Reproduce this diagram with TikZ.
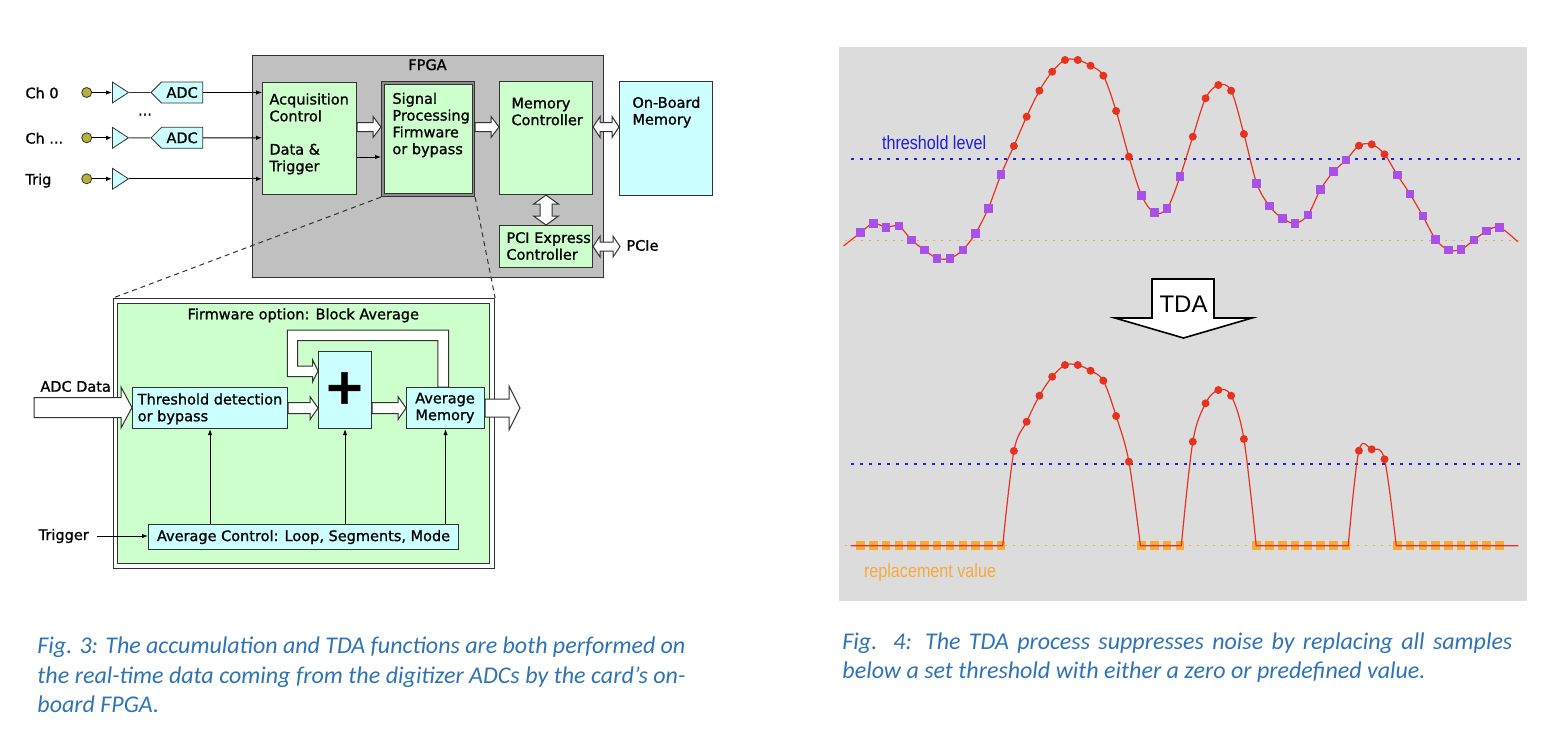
\documentclass[tikz,border=0pt]{standalone}
\usepackage{fontspec}
\setmainfont{DejaVu Sans}[RawFeature={embolden=1.0}]
\newfontfamily\capfont{Carlito}
\newfontfamily\plotfont[FakeStretch=0.85]{Liberation Sans}
\newfontfamily\tdafont{Liberation Sans}
\usetikzlibrary{arrows.meta,calc,shapes.geometric,shapes.symbols}

\definecolor{boxgreen}{RGB}{204,255,204}
\definecolor{boxcyan}{RGB}{204,255,255}
\definecolor{fpgagray}{RGB}{192,192,192}
\definecolor{edge}{RGB}{50,50,50}
\definecolor{inputdot}{RGB}{180,178,60}
\definecolor{plotbg}{RGB}{220,220,220}
\definecolor{sigred}{RGB}{230,50,30}
\definecolor{sampurple}{RGB}{168,80,232}
\definecolor{repl}{RGB}{245,170,60}
\definecolor{thrblue}{RGB}{30,30,220}
\definecolor{capblue}{RGB}{46,116,181}

\tikzset{
  box/.style={draw=edge,line width=1.1pt,inner sep=0pt,anchor=north west},
  txt/.style={anchor=north west,inner sep=0pt,align=left},
  lab/.style={anchor=base west,inner sep=0pt},
  fat/.style={draw=edge,line width=1pt,fill=white,line join=miter},
  inpin/.style={circle,draw=edge,line width=0.8pt,fill=inputdot,minimum size=10pt,inner sep=0pt},
  buf/.style={isosceles triangle,isosceles triangle stretches,minimum width=21pt,minimum height=16pt,
    inner sep=0pt,draw=edge,line width=0.8pt,fill=boxcyan,anchor=west},
  adc/.style={signal,signal to=west,signal pointer angle=90,draw=edge,line width=0.8pt,fill=boxcyan,
    minimum height=21pt,inner xsep=5pt,inner ysep=0pt,anchor=west},
  sig/.style={sigred,line width=1.2pt},
  purplemark/.style={fill=sampurple,minimum size=8.5pt,inner sep=0pt},
  replmark/.style={fill=repl,minimum size=8.5pt,inner sep=0pt},
  redmark/.style={circle,fill=sigred,minimum size=8pt,inner sep=0pt},
  caption/.style={anchor=north west,inner sep=0pt,align=justify,text=capblue,
    font=\capfont\itshape\fontsize{24}{29.3}\selectfont}
}

% hollow block arrows between two points (horizontal / vertical)
\newcommand{\fatarrow}[5]{%
  \draw[fat] let \p1=(#1), \p2=(#2) in
    (\x1,\y1+#3) -- (\x2-#5,\y1+#3) -- (\x2-#5,\y1+#4) -- (\x2,\y1)
    -- (\x2-#5,\y1-#4) -- (\x2-#5,\y1-#3) -- (\x1,\y1-#3) -- cycle;}
\newcommand{\fatdouble}[5]{%
  \draw[fat] let \p1=(#1), \p2=(#2) in
    (\x1,\y1) -- (\x1+#5,\y1+#4) -- (\x1+#5,\y1+#3) -- (\x2-#5,\y1+#3) -- (\x2-#5,\y1+#4)
    -- (\x2,\y1) -- (\x2-#5,\y1-#4) -- (\x2-#5,\y1-#3) -- (\x1+#5,\y1-#3) -- (\x1+#5,\y1-#4) -- cycle;}
\newcommand{\fatdoublev}[5]{%
  \draw[fat] let \p1=(#1), \p2=(#2) in
    (\x1,\y1) -- (\x1+#4,\y1-#5) -- (\x1+#3,\y1-#5) -- (\x1+#3,\y2+#5) -- (\x1+#4,\y2+#5)
    -- (\x1,\y2) -- (\x1-#4,\y2+#5) -- (\x1-#3,\y2+#5) -- (\x1-#3,\y1-#5) -- (\x1-#4,\y1-#5) -- cycle;}

\begin{document}
\begin{tikzpicture}[x=1pt,y=-1pt,line width=0.9pt,>={Latex[length=6pt,width=4.5pt]},font=\fontsize{14.5}{16.8}\selectfont]
\useasboundingbox[fill=white] (0,0) rectangle (1560,742);

% FPGA and its blocks
\node[box,fill=fpgagray,line width=1.3pt,minimum width=351pt,minimum height=222pt] (fpga) at (252,55) {};
\node[anchor=base,inner sep=0pt] (fpgatxt) at (427.5,70) {FPGA};
\node[box,fill=boxgreen,minimum width=94pt,minimum height=112pt] (acq) at (262,82) {};
\node[txt] (acqtxt) at (269,93) {Acquisition\\Control\\[16.5pt]Data \&\\Trigger};
\node[box,fill=black!45,minimum width=93pt,minimum height=115pt] (spo) at (381,81) {};
\node[box,fill=boxgreen,minimum width=88pt,minimum height=109pt] (sp) at (384,84) {};
\node[txt] (sptxt) at (392,92.3) {Signal\\Processing\\Firmware\\or bypass};
\node[box,fill=boxgreen,minimum width=93pt,minimum height=113pt] (mem) at (499,81) {};
\node[txt] (memtxt) at (511,97.3) {Memory\\Controller};
\node[box,fill=boxcyan,minimum width=93pt,minimum height=114pt] (onb) at (619,81) {};
\node[txt] (onbtxt) at (632,96.3) {On-Board\\Memory};
\node[box,fill=boxgreen,minimum width=93pt,minimum height=42pt] (pci) at (499,225) {};
\node[txt] (pcitxt) at (506,231.7) {PCI Express\\Controller};
\node[lab] (pcie) at (626,250.7) {PCIe};

% inputs
\foreach \n/\y/\name in {0/92.5/{Ch 0},1/137.8/{Ch ...},2/178.8/Trig}{
  \node[lab] (ch\n) at (25,\y+5.8) {\name};
  \node[inpin] (in\n) at (86.7,\y) {};
  \node[buf] (buf\n) at (112,\y) {};
  \draw[->] (in\n) -- (buf\n);
}
\node[anchor=base,inner sep=0pt] (chdots) at (145,115.5) {...};
\foreach \n in {0,1}{
  \node[adc] (adc\n) at ($(buf\n.apex)+(21,0)$) {ADC};
  \draw[edge] (buf\n.apex) -- (adc\n);
  \draw[->] (adc\n) -- (acq.west |- adc\n);
}
\draw[->] (buf2.apex) -- (acq.west |- buf2.apex);

% data paths
\fatarrow{acq.east |- 0,127}{spo.west |- 0,127}{4.5}{10.5}{8}
\draw[->] (acq.east |- 0,157) -- (spo.west |- 0,157);
\fatarrow{spo.east |- 0,127}{mem.west |- 0,127}{4.5}{10.5}{8}
\fatdouble{mem.east |- 0,127}{onb.west |- 0,127}{4.5}{10.5}{7}
\fatdoublev{mem.south}{pci.north}{6}{12.5}{9}
\coordinate (pcieend) at (620,246);
\fatdouble{pci.east}{pcieend}{4.5}{10.5}{7}

% firmware detail
\node[box,fill=white,minimum width=381pt,minimum height=270pt] (fwo) at (113,298) {};
\node[box,fill=boxgreen,minimum width=372pt,minimum height=260pt] (fw) at (117,303) {};
\draw[edge,line width=1pt,dash pattern=on 5pt off 4pt] (spo.south west) -- (fwo.north west);
\draw[edge,line width=1pt,dash pattern=on 5pt off 4pt] (spo.south east) -- (fwo.north east);
\node[anchor=base,inner sep=0pt] (fwtitle) at (303.3,319.3) {Firmware option: Block Average};
\node[box,fill=boxcyan,minimum width=155pt,minimum height=41pt] (thr) at (132,387) {};
\node[txt] (thrtxt) at (137.3,393) {Threshold detection\\or bypass};
\node[box,fill=boxcyan,minimum width=53pt,minimum height=77pt] (plus) at (318,351) {};
\node[font=\bfseries\fontsize{50}{50}\selectfont,inner sep=0pt] (plustxt) at (344.5,388) {+};
\node[box,fill=boxcyan,minimum width=78pt,minimum height=41pt] (avgmem) at (406,387) {};
\node[txt,align=center,anchor=north] (avgtxt) at (445,392.3) {Average\\Memory};
\node[box,fill=boxcyan,minimum width=310pt,minimum height=25pt] (avgctrl) at (148,524) {Average Control: Loop, Segments, Mode};
\node[lab] (adcdata) at (40,391.7) {ADC Data};
\node[lab] (trigger) at (38.3,540) {Trigger};

\coordinate (adcin) at (34,407.5);
\fatarrow{adcin}{thr.west}{10}{20.5}{11}
\fatarrow{thr.east}{plus.west |- thr.east}{5.5}{11.5}{8}
\fatarrow{plus.east |- avgmem.west}{avgmem.west}{5.5}{11.5}{8}
\coordinate (fwout) at (520,407.5);
\fatarrow{avgmem.east}{fwout}{9}{22}{11}
\draw[fat] ($(avgmem.north)+(3,0)$) |- (287.3,330) |- (312.7,376.7) -- (312.7,381.7)
  -- (plus.west |- 0,370.9) -- (312.7,360) -- (312.7,366) -| (297.7,340.7)
  -| ($(avgmem.north)+(-7.7,0)$) -- cycle;
\draw[->,shorten <=7.6pt] (trigger.east) -- (trigger.east -| avgctrl.west);
\foreach \t in {thr,plus,avgmem}
  \draw[->] (avgctrl.north -| \t.south) -- (\t.south);

% TDA plot
\fill[plotbg] (839,47) rectangle (1527,601);
\draw[thrblue,line width=1.3pt,dash pattern=on 2.5pt off 6.5pt] (851,159) -- (1524,159);
\draw[repl,line width=1pt,dash pattern=on 2pt off 6pt] (845,240) -- (1523,240);
\draw[thrblue,line width=1.3pt,dash pattern=on 2.5pt off 6.5pt] (851,464) -- (1524,464);
\draw[repl,line width=1pt,dash pattern=on 2pt off 6pt] (845,545.7) -- (1523,545.7);
\node[lab,text=thrblue,font=\plotfont\fontsize{19}{19}\selectfont] (thrlab) at (881.6,149.3) {threshold level};
\node[lab,text=repl,font=\plotfont\fontsize{19}{19}\selectfont] (repllab) at (863.6,577.7) {replacement value};

\draw[sig] plot[smooth,tension=0.55] coordinates {(843.5,246) (860.5,232.7) (873.3,223.3) (886.1,227.3)
  (898.8,226.0) (911.6,240.0) (924.4,250.0) (937.2,258.3) (950.0,258.3) (962.7,250.0) (975.5,233.3)
  (988.3,208.3) (1001.1,174.3) (1013.9,146.0) (1026.6,116.7) (1039.4,90.7) (1052.2,71.7) (1065.0,60.0)
  (1077.8,60.0) (1090.5,65.7) (1103.3,75.7) (1116.1,111.0) (1128.9,156.7) (1141.7,195.7) (1154.4,212.7)
  (1167.2,208.3) (1180.0,176.7) (1192.8,136.7) (1205.6,98.3) (1218.3,85.0) (1231.1,90.7) (1243.9,134.0)
  (1256.7,183.3) (1269.5,206.0) (1282.2,218.3) (1295.0,223.3) (1307.8,215.0) (1320.6,189.3) (1333.4,171.7)
  (1346.1,160.0) (1358.9,145.7) (1371.7,144.3) (1384.5,154.3) (1397.3,175.0) (1410.0,194.0) (1422.8,216.0)
  (1435.6,239.3) (1448.4,250.0) (1461.2,249.3) (1473.9,240.0) (1486.7,231.0) (1499.5,227.3) (1517.7,241.7)};

\foreach \i/\y in {1/232.7,2/223.3,3/227.3,4/226.0,5/240.0,6/250.0,7/258.3,8/258.3,9/250.0,10/233.3,
  11/208.3,12/174.3,23/195.7,24/212.7,25/208.3,26/176.7,32/183.3,33/206.0,34/218.3,35/223.3,36/215.0,
  37/189.3,38/171.7,39/160.0,43/175.0,44/194.0,45/216.0,46/239.3,47/250.0,48/249.3,49/240.0,50/231.0,51/227.3}{
  \node[purplemark] (p\i) at ({860.5+12.78*(\i-1)},\y) {};
  \node[replmark] (r\i) at ({860.5+12.78*(\i-1)},545.7) {};
}

\draw[sig] (850.6,545.7) -- (1002.7,545.7)
  -- plot[smooth,tension=0.55] coordinates {(1002.7,545.7) (1013.9,451.0) (1026.6,421.7) (1039.4,395.7)
    (1052.2,376.7) (1065.0,365.0) (1077.8,365.0) (1090.5,370.7) (1103.3,380.7) (1116.1,416.0) (1128.9,461.7) (1140.4,545.7)}
  -- (1181.3,545.7)
  -- plot[smooth,tension=0.55] coordinates {(1181.3,545.7) (1192.8,441.7) (1205.6,403.3) (1218.3,390.0)
    (1231.1,395.7) (1243.9,439.0) (1256.2,545.7)}
  -- (1348.2,545.7)
  -- plot[smooth,tension=0.55] coordinates {(1348.2,545.7) (1358.9,450.7) (1371.7,449.3) (1384.5,459.3) (1396.2,545.7)}
  -- (1518,545.7);

\foreach \i/\y in {13/146.0,14/116.7,15/90.7,16/71.7,17/60.0,18/60.0,19/65.7,20/75.7,21/111.0,22/156.7,
  27/136.7,28/98.3,29/85.0,30/90.7,31/134.0,40/145.7,41/144.3,42/154.3}{
  \node[redmark] (a\i) at ({860.5+12.78*(\i-1)},\y) {};
  \node[redmark] (b\i) at ({860.5+12.78*(\i-1)},\y+305) {};
}

\draw[line width=1.6pt,fill=white,line join=miter] (1152,279) -- (1214,279) -- (1214,318) -- (1252,318)
  -- (1183.5,338) -- (1115,318) -- (1152,318) -- cycle;
\node[anchor=base,inner sep=0pt,font=\tdafont\fontsize{24}{24}\selectfont] (tda) at (1183.5,312.7) {TDA};

% captions
\node[caption,text width=648pt] (cap3) at (37,636.6) {Fig. 3: The accumulation and TDA functions are both performed on\linebreak the real-time data coming from the digitizer ADCs by the card’s on-\linebreak board FPGA.};
\node[caption,text width=670pt] (cap4) at (842,632) {Fig. 4: The TDA process suppresses noise by replacing all samples\linebreak below a set threshold with either a zero or predefined value.};
\end{tikzpicture}
\end{document}
